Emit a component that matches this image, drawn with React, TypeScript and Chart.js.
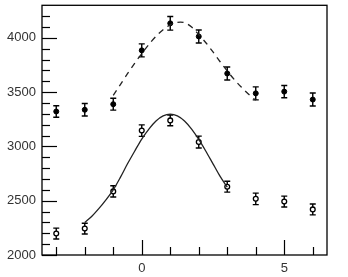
import React, { useEffect, useRef } from "react";
import { Chart, registerables } from "chart.js";

Chart.register(...registerables);

const xs = [-3, -2, -1, 0, 1, 2, 3, 4, 5, 6];
const upperValues = [3322, 3338, 3389, 3885, 4134, 4013, 3672, 3489, 3505, 3432];
const upperErrors = [53, 57, 55, 60, 63, 60, 60, 60, 56, 60];
const lowerValues = [2198, 2243, 2586, 3146, 3240, 3040, 2629, 2517, 2492, 2420];
const lowerErrors = [50, 50, 52, 53, 50, 55, 50, 53, 50, 50];

const upperFitX = [-1, -0.75, -0.5, -0.25, 0, 0.25, 0.5, 0.75, 1, 1.25, 1.5, 1.75, 2, 2.25, 2.5, 2.75, 3, 3.25, 3.5, 3.75, 4];
const upperFitY = [3470, 3570, 3670, 3765, 3855, 3940, 4015, 4075, 4120, 4143, 4140, 4100, 4030, 3955, 3870, 3780, 3695, 3615, 3545, 3480, 3425];
const lowerFitX = [-2, -1.75, -1.5, -1.25, -1, -0.75, -0.5, -0.25, 0, 0.25, 0.5, 0.75, 1, 1.25, 1.5, 1.75, 2, 2.25, 2.5, 2.75, 3];
const lowerFitY = [2300, 2357, 2429, 2510, 2600, 2715, 2840, 2956, 3068, 3160, 3235, 3282, 3298, 3282, 3235, 3160, 3065, 2956, 2840, 2724, 2625];

const yMin = 2000;
const yMax = 4300;
const xMin = -3.5;
const xMax = 6.5;
const yTickLabels = [2000, 2500, 3000, 3500, 4000];
const yMinorTicks = [2100, 2200, 2300, 2400, 2600, 2700, 2800, 2900, 3100, 3200, 3300, 3400, 3600, 3700, 3800, 3900, 4100, 4200];
const xTickLabels = [0, 5];
const xMinorTicks = [-3, -2, -1, 1, 2, 3, 4, 6];

const FONT = { family: "'Liberation Sans', Arial, sans-serif", size: 13 };

const drawTicks = (chart: any) => {
  const { ctx, chartArea: a, scales } = chart;
  const x = scales.x;
  const y = scales.y;
  ctx.save();
  ctx.setLineDash([]);
  ctx.strokeStyle = "#000";
  ctx.lineWidth = 1.3;
  ctx.strokeRect(a.left, a.top, a.right - a.left, a.bottom - a.top);
  const seg = (x1: number, y1: number, x2: number, y2: number) => {
    ctx.beginPath();
    ctx.moveTo(x1, y1);
    ctx.lineTo(x2, y2);
    ctx.stroke();
  };
  ctx.strokeStyle = "#000";
  ctx.lineWidth = 1.2;
  for (const v of yTickLabels) {
    const py = Math.round(y.getPixelForValue(v)) + 0.5;
    seg(a.left, py, a.left + 15, py);
  }
  for (const v of yMinorTicks) {
    const py = Math.round(y.getPixelForValue(v)) + 0.5;
    seg(a.left, py, a.left + 8, py);
  }
  for (const v of xTickLabels) {
    const px = Math.round(x.getPixelForValue(v)) + 0.5;
    seg(px, a.bottom, px, a.bottom - 15);
  }
  for (const v of xMinorTicks) {
    const px = Math.round(x.getPixelForValue(v)) + 0.5;
    seg(px, a.bottom, px, a.bottom - 8);
  }
  ctx.restore();
};

const decor = {
  id: "decor",
  beforeDatasetsDraw(chart: any) {
    const { ctx, scales } = chart;
    const x = scales.x;
    const y = scales.y;
    ctx.save();
    ctx.setLineDash([]);
    ctx.strokeStyle = "#000";
    ctx.lineWidth = 1.4;
    const bar = (xv: number, v: number, e: number) => {
      const px = x.getPixelForValue(xv);
      const t = y.getPixelForValue(v + e);
      const b = y.getPixelForValue(v - e);
      ctx.beginPath();
      ctx.moveTo(px, t);
      ctx.lineTo(px, b);
      ctx.moveTo(px - 3, t);
      ctx.lineTo(px + 3, t);
      ctx.moveTo(px - 3, b);
      ctx.lineTo(px + 3, b);
      ctx.stroke();
    };
    xs.forEach((xv, i) => {
      bar(xv, upperValues[i], upperErrors[i]);
      bar(xv, lowerValues[i], lowerErrors[i]);
    });
    ctx.restore();
  },
  afterDatasetsDraw(chart: any) {
    drawTicks(chart);
  },
};

export default function App() {
  const ref = useRef<HTMLCanvasElement | null>(null);
  useEffect(() => {
    if (!ref.current) return;
    const chart = new Chart(ref.current, {
      type: "scatter",
      data: {
        datasets: [
          {
            data: upperFitX.map((v, i) => ({ x: v, y: upperFitY[i] })),
            showLine: true,
            borderColor: "#222",
            borderWidth: 1.3,
            borderDash: [6, 5],
            pointRadius: 0,
            tension: 0.3,
          },
          {
            data: lowerFitX.map((v, i) => ({ x: v, y: lowerFitY[i] })),
            showLine: true,
            borderColor: "#222",
            borderWidth: 1.3,
            pointRadius: 0,
            tension: 0.3,
          },
          {
            data: xs.map((v, i) => ({ x: v, y: upperValues[i] })),
            pointRadius: 2.5,
            pointBackgroundColor: "#000",
            pointBorderColor: "#000",
            pointBorderWidth: 1,
          },
          {
            data: xs.map((v, i) => ({ x: v, y: lowerValues[i] })),
            pointRadius: 2.4,
            pointBackgroundColor: "#fff",
            pointBorderColor: "#000",
            pointBorderWidth: 1.3,
          },
        ],
      },
      options: {
        animation: false,
        responsive: false,
        maintainAspectRatio: false,
        layout: { padding: { top: 3, right: 21, left: 0, bottom: 0 } },
        plugins: { legend: { display: false }, tooltip: { enabled: false } },
        scales: {
          x: {
            type: "linear",
            min: xMin,
            max: xMax,
            grid: { display: false, drawTicks: false },
            border: { display: false },
            afterBuildTicks: (s: any) => {
              s.ticks = xTickLabels.map((v) => ({ value: v }));
            },
            afterFit: (s: any) => {
              s.height = 22;
              s.paddingLeft = 0;
              s.paddingRight = 0;
            },
            ticks: {
              font: FONT,
              color: "#333",
              padding: 6,
              maxRotation: 0,
              autoSkip: false,
              callback: (v: any) => String(v),
            },
          },
          y: {
            type: "linear",
            min: yMin,
            max: yMax,
            grid: { display: false, drawTicks: false },
            border: { display: false },
            afterBuildTicks: (s: any) => {
              s.ticks = yTickLabels.map((v) => ({ value: v }));
            },
            afterFit: (s: any) => {
              s.width = 42;
              s.paddingTop = 0;
              s.paddingBottom = 0;
            },
            ticks: {
              font: FONT,
              color: "#333",
              padding: 6,
              autoSkip: false,
              callback: (v: any) => String(v),
            },
          },
        },
      },
      plugins: [decor],
    });
    return () => chart.destroy();
  }, []);
  return (
    <div style={{ position: "fixed", left: 0, top: 0, width: 348, height: 277, background: "#fff" }}>
      <canvas ref={ref} width={348} height={277} style={{ width: 348, height: 277, display: "block" }} />
    </div>
  );
}
